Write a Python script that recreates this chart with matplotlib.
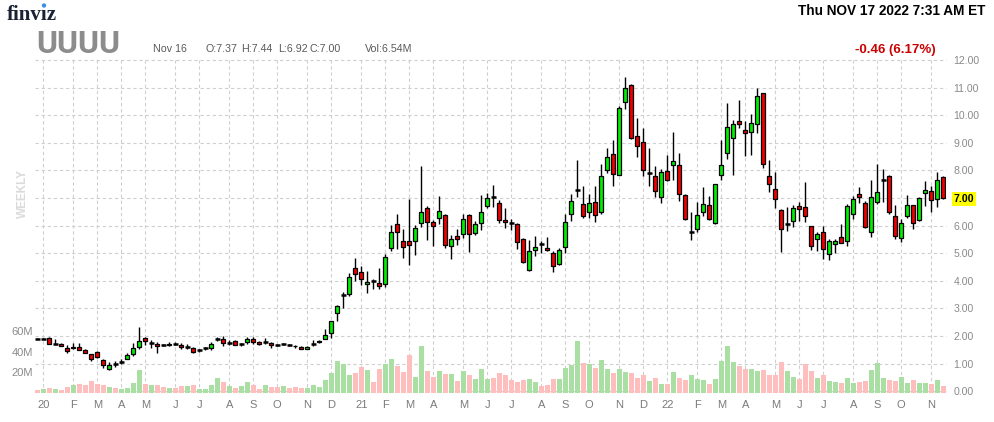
import matplotlib
matplotlib.use('Agg')
import matplotlib.pyplot as plt
import matplotlib.transforms as mtransforms
from matplotlib.patches import Ellipse

# ---------------- data (weekly candles, UUUU) ----------------
opens = [1.90, 1.90, 1.94, 1.72, 1.72, 1.57, 1.61, 1.61, 1.50, 1.34,
         1.41, 1.14, 0.82, 0.99, 1.05, 1.18, 1.35, 1.60, 1.92, 1.74,
         1.72, 1.66, 1.68, 1.72, 1.66, 1.60, 1.57, 1.48, 1.55, 1.57,
         1.88, 1.90, 1.76, 1.82, 1.70, 1.78, 1.90, 1.80, 1.78, 1.76,
         1.67, 1.71, 1.68, 1.65, 1.60, 1.54, 1.70, 1.80, 1.90, 2.10,
         2.84, 3.48, 3.53, 4.47, 4.33, 3.89, 4.01, 3.93, 3.89, 5.19,
         6.06, 5.45, 5.45, 5.45, 6.10, 6.64, 6.13, 6.28, 6.39, 5.27,
         5.63, 5.71, 6.39, 5.73, 6.10, 6.71, 7.05, 6.83, 6.20, 6.10,
         6.07, 5.52, 4.40, 5.13, 5.33, 5.19, 5.02, 4.61, 5.22, 6.42,
         7.28, 6.78, 6.48, 6.86, 6.49, 8.01, 8.59, 7.82, 10.49, 11.08,
         9.24, 9.02, 7.89, 7.80, 7.05, 7.98, 8.19, 8.19, 7.11, 5.76,
         5.88, 6.49, 6.75, 6.10, 7.83, 8.63, 9.17, 9.78, 9.46, 9.39,
         9.67, 10.80, 7.80, 7.33, 6.57, 6.06, 6.16, 6.71, 6.67, 5.99,
         5.52, 5.77, 4.98, 5.34, 5.59, 5.45, 6.42, 7.14, 6.82, 5.77,
         6.85, 7.65, 7.80, 6.35, 5.55, 6.36, 6.75, 6.20, 7.17, 7.25,
         6.98, 7.76]
highs = [1.93, 1.93, 1.96, 1.90, 1.73, 1.66, 1.75, 1.75, 1.52, 1.36,
         1.45, 1.16, 1.04, 1.10, 1.16, 1.40, 1.76, 2.34, 1.98, 1.86,
         1.78, 1.72, 1.78, 1.80, 1.76, 1.70, 1.60, 1.54, 1.60, 1.78,
         1.98, 2.00, 1.86, 1.84, 1.74, 1.98, 1.98, 1.82, 1.94, 1.78,
         1.72, 1.74, 1.70, 1.68, 1.62, 1.63, 1.86, 1.86, 2.27, 2.55,
         3.13, 3.60, 4.29, 4.81, 4.52, 4.37, 4.08, 4.45, 4.96, 6.01,
         6.43, 5.88, 6.98, 6.02, 8.17, 6.72, 6.22, 7.08, 6.41, 5.67,
         5.86, 6.43, 6.43, 6.17, 7.12, 7.19, 7.48, 6.92, 6.65, 6.25,
         6.11, 5.54, 5.49, 5.64, 5.45, 5.57, 5.07, 5.20, 6.43, 7.16,
         8.39, 7.45, 7.16, 7.45, 8.24, 8.81, 9.11, 10.34, 11.37, 11.13,
         9.90, 9.54, 8.82, 8.17, 8.06, 8.57, 9.40, 8.63, 7.16, 6.49,
         6.86, 7.41, 7.08, 7.51, 9.11, 10.43, 9.83, 10.55, 9.80, 10.04,
         10.98, 10.80, 8.39, 7.94, 6.60, 6.67, 6.76, 6.86, 7.58, 5.99,
         5.77, 5.99, 5.53, 5.53, 6.04, 6.80, 7.06, 7.39, 6.90, 7.66,
         8.24, 8.06, 7.83, 6.75, 6.24, 7.12, 6.75, 7.04, 7.62, 7.45,
         7.94, 7.80]
lows = [1.88, 1.88, 1.72, 1.72, 1.64, 1.38, 1.53, 1.48, 1.39, 1.10,
        1.22, 0.85, 0.77, 0.89, 1.00, 1.15, 1.28, 1.52, 1.66, 1.58,
        1.37, 1.62, 1.64, 1.66, 1.54, 1.52, 1.40, 1.42, 1.49, 1.49,
        1.81, 1.64, 1.69, 1.68, 1.65, 1.72, 1.72, 1.69, 1.70, 1.55,
        1.63, 1.67, 1.63, 1.58, 1.52, 1.52, 1.62, 1.76, 1.88, 1.94,
        2.54, 3.01, 3.45, 3.99, 3.84, 3.57, 3.71, 3.71, 3.78, 5.07,
        5.16, 4.82, 4.57, 4.93, 5.94, 5.47, 5.25, 6.06, 5.19, 4.80,
        5.30, 5.54, 5.05, 5.65, 5.84, 6.63, 6.67, 6.10, 5.92, 5.83,
        5.17, 4.64, 4.35, 4.89, 4.99, 5.07, 4.31, 4.59, 5.00, 6.16,
        7.02, 6.27, 6.28, 6.13, 6.41, 7.89, 7.42, 7.82, 10.23, 9.13,
        8.47, 7.81, 7.42, 7.02, 6.81, 7.60, 7.64, 6.88, 6.19, 5.47,
        5.76, 6.34, 6.22, 6.05, 7.64, 8.43, 7.82, 9.55, 8.51, 8.54,
        9.37, 8.07, 7.20, 6.63, 5.06, 5.80, 5.94, 6.16, 6.12, 5.11,
        5.07, 4.78, 4.75, 4.99, 5.37, 5.25, 6.25, 6.82, 5.90, 5.59,
        6.78, 6.86, 6.43, 5.52, 5.40, 6.28, 5.88, 6.18, 6.70, 6.48,
        6.66, 6.95]
closes = [1.90, 1.90, 1.72, 1.72, 1.65, 1.44, 1.58, 1.50, 1.40, 1.18,
          1.25, 0.94, 0.94, 0.99, 1.07, 1.30, 1.58, 1.83, 1.83, 1.74,
          1.63, 1.66, 1.71, 1.72, 1.60, 1.60, 1.42, 1.48, 1.55, 1.72,
          1.88, 1.76, 1.76, 1.69, 1.70, 1.90, 1.79, 1.71, 1.77, 1.69,
          1.67, 1.71, 1.66, 1.62, 1.54, 1.61, 1.70, 1.83, 2.02, 2.55,
          3.07, 3.48, 4.13, 4.25, 4.05, 3.96, 4.01, 3.82, 4.87, 5.77,
          5.77, 5.23, 5.30, 5.92, 6.49, 6.13, 6.00, 6.53, 5.30, 5.52,
          5.52, 6.24, 5.71, 6.06, 6.49, 7.00, 7.05, 6.22, 6.14, 6.10,
          5.41, 4.69, 5.08, 5.23, 5.33, 5.12, 4.54, 5.12, 6.13, 6.89,
          7.28, 6.35, 6.82, 6.39, 7.79, 8.48, 7.87, 10.25, 10.98, 9.19,
          8.90, 8.01, 7.89, 7.25, 7.93, 7.67, 8.34, 7.14, 6.23, 5.76,
          6.39, 6.78, 6.24, 7.51, 8.19, 9.57, 9.67, 9.67, 9.35, 9.71,
          10.69, 8.23, 7.49, 6.95, 5.88, 6.06, 6.63, 6.60, 6.35, 5.27,
          5.70, 5.16, 5.45, 5.45, 5.37, 6.71, 6.96, 7.04, 5.95, 7.04,
          7.22, 7.65, 6.48, 5.64, 6.10, 6.75, 6.10, 7.00, 7.29, 6.93,
          7.67, 7.00]
volumes_m = [2.6, 3.5, 4.5, 3.5, 2.6, 5.4, 7.4, 8.3, 7.4, 11.2,
             8.3, 7.4, 5.4, 4.5, 3.5, 4.5, 9.3, 21.8, 8.3, 7.4,
             7.4, 5.4, 4.5, 4.5, 6.4, 6.4, 7.4, 3.5, 3.5, 7.4,
             14.1, 10.2, 6.4, 4.5, 6.4, 10.2, 7.4, 3.5, 7.4, 5.4,
             5.4, 6.4, 4.5, 5.4, 4.5, 4.5, 7.4, 5.4, 12.2, 18.9,
             30.4, 27.5, 17.0, 18.9, 24.6, 21.8, 10.2, 22.7, 27.5, 32.3,
             25.6, 19.8, 36.2, 15.0, 45.8, 20.8, 15.0, 20.8, 17.9, 17.9,
             11.2, 20.8, 17.0, 13.1, 22.7, 13.1, 14.1, 18.9, 17.0, 12.2,
             10.2, 12.2, 13.1, 10.2, 6.4, 7.4, 13.1, 13.1, 23.7, 26.6,
             50.6, 28.5, 27.5, 23.7, 31.4, 22.7, 18.9, 22.7, 19.8, 18.9,
             14.1, 17.0, 11.2, 14.1, 8.3, 8.3, 19.8, 14.1, 12.2, 17.0,
             13.1, 12.2, 8.3, 13.1, 30.4, 45.8, 29.4, 25.6, 22.7, 22.7,
             20.8, 21.8, 17.0, 17.0, 29.4, 20.8, 15.0, 13.1, 27.5, 20.8,
             14.1, 17.0, 11.2, 10.2, 9.3, 14.1, 9.3, 10.2, 11.2, 21.8,
             28.5, 14.1, 12.2, 11.2, 15.0, 9.3, 12.2, 9.3, 9.3, 8.3,
             12.2, 6.4]
volume_up = ("rgrgrrgrrrrrgrggggrgrrgrrg"
             "rggggrgrggrrgrrgrrrgggggggg"
             "rrgrrggrrrggrrgrgrgrgggrrrr"
             "rrggrrrggggrgrggrggrrrgrgr"
             "grrgggrggggrrggrrrrggrrrgrg"
             "grggrrgggrrggrggrgr")
month_pos = [1, 6, 10, 14, 18, 23, 27, 32, 36, 40, 45, 49, 54, 58, 62, 66, 71,
             75, 79, 84, 88, 92, 97, 101, 105, 110, 114, 118, 123, 127, 131,
             136, 140, 144, 149]
month_lbl = ['20', 'F', 'M', 'A', 'M', 'J', 'J', 'A', 'S', 'O', 'N', 'D',
             '21', 'F', 'M', 'A', 'M', 'J', 'J', 'A', 'S', 'O', 'N', 'D',
             '22', 'F', 'M', 'A', 'M', 'J', 'J', 'A', 'S', 'O', 'N']
price_ticks = list(range(0, 13))
vol_ticks = [20, 40, 60]
vol_tick_lbl = ['20M', '40M', '60M']

ticker = 'UUUU'
last_info = 'Nov 16'
ohlc_info = [('O:7.37', 205), ('H:7.44', 241.5), ('L:6.92', 278.5), ('C:7.00', 310)]
vol_info = 'Vol:6.54M'
stamp = 'Thu NOV 17 2022 7:31 AM ET'
change = '-0.46 (6.17%)'

# ---------------- figure ----------------
W, H = 994, 422
fig = plt.figure(figsize=(W / 100, H / 100), dpi=100)
fig.patch.set_facecolor('white')


def fx(px):
    return px / W


def fy(py):
    return 1 - py / H


L_, R_, T_, B_ = 35, 946, 59.5, 393
axp = fig.add_axes([fx(L_), fy(B_), (R_ - L_) / W, (B_ - T_) / H])
axv = axp.twinx()
axp.set_zorder(2)
axv.set_zorder(1)
axp.patch.set_visible(False)
axv.patch.set_facecolor('white')

n = len(closes)
xs = list(range(n))

# volume
GREEN_V, RED_V = '#a9dfa2', '#ffbebe'
vcols = [GREEN_V if f == 'g' else RED_V for f in volume_up]
axv.bar(xs, volumes_m, width=0.83, color=vcols, zorder=2, linewidth=0)

# grid (behind volume)
grid_kw = dict(color='#cfcfcf', lw=0.8, dashes=(3, 2.5), zorder=0)
blend = mtransforms.blended_transform_factory(axv.transAxes, axp.transData)
for p in price_ticks:
    axv.plot([0, 1], [p, p], transform=blend, clip_on=False, **grid_kw)
for m in month_pos:
    axv.axvline(m, **grid_kw)

# candles
GREEN_C, RED_C = '#00ee00', '#ee0000'
for i in xs:
    o, h, l, c = opens[i], highs[i], lows[i], closes[i]
    axp.vlines(i, l, h, color='black', lw=1.0, zorder=3)
    if abs(c - o) < 0.025:
        axp.hlines(c, i - 0.42, i + 0.42, color='black', lw=1.8, zorder=4)
    else:
        col = GREEN_C if c > o else RED_C
        axp.bar(i, abs(c - o), bottom=min(o, c), width=0.68, color=col,
                edgecolor='black', linewidth=0.9, zorder=4)

axp.set_xlim((L_ - 37.3) / 6, (R_ - 37.3) / 6)
axp.set_ylim(12 - (B_ - 60) / 27.6, 12 - (T_ - 60) / 27.6)
axv.set_ylim(-0.3, (392.7 - T_) / 61.7 * 60)

for a in (axp, axv):
    for s in a.spines.values():
        s.set_visible(False)

FONT = ['Liberation Sans', 'DejaVu Sans']

axp.yaxis.tick_right()
axp.set_yticks(price_ticks)
axp.set_yticklabels([f'{p:.2f}' for p in price_ticks])
axp.tick_params(axis='y', length=0, pad=5.5, labelsize=7.6, labelcolor='#8a8a8a')
for lbl in axp.get_yticklabels():
    lbl.set_family(FONT)
    if lbl.get_text() == f'{closes[-1]:.2f}':
        lbl.set_color('black')
        lbl.set_fontweight('bold')
        lbl.set_bbox(dict(facecolor='#ffff00', edgecolor='none', pad=1.2))

axv.yaxis.tick_left()
axv.set_yticks(vol_ticks)
axv.set_yticklabels(vol_tick_lbl)
axv.tick_params(axis='y', length=0, pad=1.5, labelsize=8, labelcolor='#8a8a8a')
for lbl in axv.get_yticklabels():
    lbl.set_family(FONT)

axp.set_xticks(month_pos)
axp.set_xticklabels(month_lbl)
axp.tick_params(axis='x', length=0, pad=5, labelsize=8, labelcolor='#7a7a7a')
for lbl in axp.get_xticklabels():
    lbl.set_family(FONT)

# ---------------- header ----------------
fig.text(fx(7), fy(19.5), 'finv\u0131z', fontsize=15, fontweight='bold',
         family=['Liberation Serif', 'DejaVu Serif'], color='#1a2236', va='baseline')
fig.add_artist(Ellipse((fx(44), fy(5.5)), 4.4 / W, 4.4 / H,
                       transform=fig.transFigure, facecolor='#3c8fe6',
                       edgecolor='none'))
fig.text(fx(36), fy(52.7), ticker, fontsize=23, fontweight='bold',
         family=['Roboto', 'Liberation Sans'], color='#8c8c8c', va='baseline')
fig.text(fx(153), fy(52), last_info, fontsize=7.7, color='#5a5a5a',
         family=FONT, va='baseline')
for s, xpx in ohlc_info:
    fig.text(fx(xpx), fy(52), s, fontsize=7.7, color='#5a5a5a',
             family=FONT, va='baseline')
fig.text(fx(365), fy(52), vol_info, fontsize=7.7, color='#5a5a5a',
         family=FONT, va='baseline')
fig.text(fx(985), fy(15), stamp, fontsize=9.8, fontweight='bold',
         family=FONT, color='black', ha='right', va='baseline')
fig.text(fx(936), fy(52.5), change, fontsize=9.5, fontweight='bold',
         family=FONT, color='#cc0000', ha='right', va='baseline')
fig.text(fx(23), fy(193), 'WEEKLY', rotation=90, ha='center', va='center',
         fontsize=8.5, fontweight='bold', color='#dadada', family=FONT)

fig.savefig('out.png', dpi=100, facecolor='white')
